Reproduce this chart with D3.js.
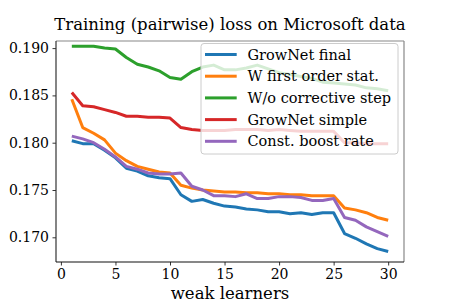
<!DOCTYPE html>
<html>
<head>
<meta charset="utf-8">
<script src="https://cdn.jsdelivr.net/npm/d3@7"></script>
<style>
  body { margin: 0; background: #fff; }
  svg { display: block; }
</style>
</head>
<body>
<div id="chart"></div>
<script>
var width = 450,
    height = 300;
var serif = "'DejaVu Serif', 'Liberation Serif', serif";

// weak learners 1..30
var learners = d3.range(1, 31);

var growNetFinal = [0.1802, 0.1799, 0.1799, 0.1792, 0.1784, 0.1773, 0.1770, 0.1765, 0.1763, 0.1762,
                    0.1745, 0.1738, 0.1740, 0.1736, 0.1733, 0.1732, 0.1730, 0.1729, 0.1727, 0.1727,
                    0.1725, 0.1726, 0.1724, 0.1726, 0.1726, 0.1704, 0.1699, 0.1693, 0.1688, 0.1685];
var firstOrder = [0.1846, 0.1816, 0.1810, 0.1803, 0.1789, 0.1781, 0.1775, 0.1772, 0.1769, 0.1768,
                  0.1755, 0.1752, 0.1750, 0.1749, 0.1748, 0.1748, 0.1747, 0.1747, 0.1746, 0.1746,
                  0.1745, 0.1745, 0.1744, 0.1744, 0.1744, 0.1731, 0.1729, 0.1726, 0.1721, 0.1718];
var noCorrective = [0.1902, 0.1902, 0.1902, 0.1900, 0.1899, 0.1890, 0.1883, 0.1880, 0.1876, 0.1869,
                    0.1867, 0.1875, 0.1880, 0.1882, 0.1877, 0.1877, 0.1879, 0.1882, 0.1878, 0.1874,
                    0.1872, 0.1870, 0.1868, 0.1864, 0.1863, 0.1862, 0.1861, 0.1858, 0.1857, 0.1855];
var growNetSimple = [0.1853, 0.1839, 0.1838, 0.1835, 0.1832, 0.1828, 0.1828, 0.1827, 0.1827, 0.1826,
                     0.1816, 0.1814, 0.1813, 0.1813, 0.1813, 0.1814, 0.1814, 0.1814, 0.1813, 0.1814,
                     0.1813, 0.1812, 0.1812, 0.1812, 0.1812, 0.1800, 0.1800, 0.1799, 0.1799, 0.1799];
var constBoost = [0.1807, 0.1804, 0.1800, 0.1793, 0.1785, 0.1775, 0.1772, 0.1768, 0.1767, 0.1767,
                  0.1768, 0.1754, 0.1750, 0.1744, 0.1744, 0.1743, 0.1746, 0.1741, 0.1741, 0.1743,
                  0.1743, 0.1742, 0.1739, 0.1739, 0.1741, 0.1721, 0.1718, 0.1711, 0.1706, 0.1701];

var seriesNames = ["GrowNet final", "W first order stat.", "W/o corrective step", "GrowNet simple", "Const. boost rate"];
var seriesValues = [growNetFinal, firstOrder, noCorrective, growNetSimple, constBoost];
var colors = ["#1f77b4", "#ff7f0e", "#2ca02c", "#d62728", "#9467bd"];

var xTicks = [0, 5, 10, 15, 20, 25, 30];
var yTicks = [0.170, 0.175, 0.180, 0.185, 0.190];

var plotL = 56, plotR = 404, plotT = 41, plotB = 262;

var x = d3.scaleLinear().domain([-0.45, 31.45]).range([plotL, plotR]);
var y = d3.scaleLinear().domain([0.16739, 0.19075]).range([plotB, plotT]);

var svg = d3.select('#chart').append('svg')
    .attr('width', width)
    .attr('height', height)
    .attr('font-family', serif);

// title
svg.append('text')
    .attr('x', (plotL + plotR) / 2)
    .attr('y', 30)
    .attr('text-anchor', 'middle')
    .attr('font-family', serif)
    .attr('font-size', 16.5)
    .text('Training (pairwise) loss on Microsoft data');

// lines
var line = d3.line()
    .x(function(d, i) { return x(learners[i]); })
    .y(function(d) { return y(d); });

var plot = svg.append('g');
seriesValues.forEach(function(vals, k) {
    plot.append('path')
        .datum(vals)
        .attr('d', line)
        .attr('fill', 'none')
        .attr('stroke', colors[k])
        .attr('stroke-width', 3)
        .attr('stroke-linejoin', 'round');
});

// axes
var xAxis = svg.append('g')
    .attr('transform', 'translate(0,' + plotB + ')')
    .call(d3.axisBottom(x).tickValues(xTicks).tickSize(3.5).tickPadding(3.5).tickFormat(d3.format('d')));
var yAxis = svg.append('g')
    .attr('transform', 'translate(' + plotL + ',0)')
    .call(d3.axisLeft(y).tickValues(yTicks).tickSize(3.5).tickPadding(3.5).tickFormat(d3.format('.3f')));

[xAxis, yAxis].forEach(function(a) {
    a.attr('font-family', serif).attr('font-size', 14);
    a.select('.domain').remove();
    a.selectAll('text')
        .attr('fill', '#000')
        .attr('font-family', serif)
        .attr('font-size', 14);
    a.selectAll('line').attr('stroke', '#000').attr('stroke-width', 0.8);
});

// spines
svg.append('line').attr('x1', plotL).attr('x2', plotR).attr('y1', plotT).attr('y2', plotT)
    .attr('stroke', '#888').attr('stroke-width', 1.2);
svg.append('line').attr('x1', plotR).attr('x2', plotR).attr('y1', plotT).attr('y2', plotB)
    .attr('stroke', '#888').attr('stroke-width', 1.2);
svg.append('line').attr('x1', plotL).attr('x2', plotL).attr('y1', plotT).attr('y2', plotB)
    .attr('stroke', '#333').attr('stroke-width', 1.2);
svg.append('line').attr('x1', plotL).attr('x2', plotR).attr('y1', plotB).attr('y2', plotB)
    .attr('stroke', '#111').attr('stroke-width', 1.2);

// x label
svg.append('text')
    .attr('x', (plotL + plotR) / 2)
    .attr('y', 299)
    .attr('text-anchor', 'middle')
    .attr('font-family', serif)
    .attr('font-size', 16.5)
    .text('weak learners');

// legend
var legend = svg.append('g').attr('transform', 'translate(201,43.5)');
legend.append('rect')
    .attr('width', 197)
    .attr('height', 110.5)
    .attr('rx', 3)
    .attr('fill', '#fff')
    .attr('fill-opacity', 0.8)
    .attr('stroke', '#ccc')
    .attr('stroke-width', 1);
seriesNames.forEach(function(name, k) {
    var yy = 11 + k * 21.7;
    legend.append('line')
        .attr('x1', 4).attr('x2', 35.7)
        .attr('y1', yy).attr('y2', yy)
        .attr('stroke', colors[k])
        .attr('stroke-width', 3);
    legend.append('text')
        .attr('x', 46.5)
        .attr('y', yy + 5)
        .attr('font-family', serif)
        .attr('font-size', 14.5)
        .text(name);
});
</script>
</body>
</html>
